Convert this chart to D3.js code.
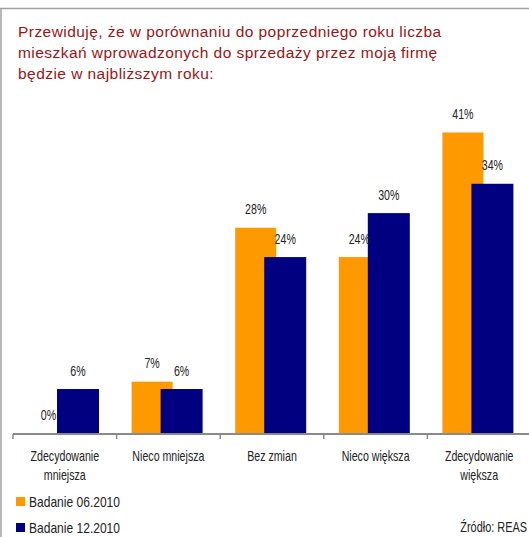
<!DOCTYPE html>
<html><head><meta charset="utf-8">
<script src="https://cdn.jsdelivr.net/npm/d3@7"></script>
<style>
html,body{margin:0;padding:0;background:#fff;}
svg{display:block;}
</style></head>
<body>
<script>
const categories = [["Zdecydowanie","mniejsza"],["Nieco mniejsza"],["Bez zmian"],["Nieco większa"],["Zdecydowanie","większa"]];
const seriesNames = ["Badanie 06.2010","Badanie 12.2010"];
const seriesColors = ["#FF9900","#000080"];
const june2010 = [0,7,28,24,41];
const dec2010 = [6,6,24,30,34];
const titleLines = ["Przewiduję, że w porównaniu do poprzedniego roku liczba","mieszkań wprowadzonych do sprzedaży przez moją firmę","będzie w najbliższym roku:"];
const sourceText = "Źródło: REAS";

const W=529,H=537;
const font = "'Liberation Sans',Arial,sans-serif";
const svg=d3.select("body").append("svg").attr("width",W).attr("height",H);

// narrow text: group translated to (x,y) and squeezed horizontally
function ntext(parent,data,fx,fy,f,anchor,txt){
  const g=parent.append("g").selectAll("g").data(data).join("g")
    .attr("transform",(d,i)=>`translate(${fx(d,i)},${fy(d,i)}) scale(${f},1)`);
  g.append("text").attr("text-anchor",anchor).attr("font-family",font).attr("font-size",14)
    .attr("fill","#222").text(txt);
  return g;
}

// frame
svg.append("line").attr("x1",0).attr("x2",W).attr("y1",8.5).attr("y2",8.5).attr("stroke","#a0a0a0").attr("stroke-width",1.5);
svg.append("line").attr("x1",1).attr("x2",1).attr("y1",8).attr("y2",H).attr("stroke","#a0a0a0").attr("stroke-width",1.5);

// title
svg.append("g").selectAll("text").data(titleLines).join("text")
  .attr("x",18).attr("y",(d,i)=>37+i*21)
  .attr("fill","#9A1515").attr("font-family",font).attr("font-size",15.5).attr("letter-spacing",0.45)
  .text(d=>d);

const idx=d3.range(categories.length);
const x=d3.scaleBand().domain(idx).range([13,531]).padding(0);
const y=d3.scaleLinear().domain([0,45]).range([433,433-45*7.33]);

const series=[{name:seriesNames[0],vals:june2010,off:15,w:41,c:seriesColors[0]},
              {name:seriesNames[1],vals:dec2010,off:44,w:42,c:seriesColors[1]}];

series.forEach(s=>{
  svg.append("g").selectAll("rect").data(s.vals).join("rect")
    .attr("x",(d,i)=>x(i)+s.off).attr("width",s.w)
    .attr("y",d=>y(d)).attr("height",d=>y(0)-y(d)).attr("fill",s.c);
});
series.forEach(s=>{
  ntext(svg,s.vals,(d,i)=>x(i)+s.off+s.w/2,d=>y(d)-13.5,0.76,"middle",d=>d+"%");
});

// axis
const ax=svg.append("g").attr("transform","translate(0,434)");
ax.append("line").attr("x1",13).attr("x2",W).attr("y1",0).attr("y2",0).attr("stroke","#8a8a8a").attr("stroke-width",2);
ax.selectAll("line.t").data(idx).join("line").attr("class","t")
  .attr("x1",i=>x(i)).attr("x2",i=>x(i)).attr("y1",0).attr("y2",5).attr("stroke","#8a8a8a").attr("stroke-width",1.5);

const catLines=[];
categories.forEach((c,i)=>c.forEach((t,j)=>catLines.push({i,j,t})));
ntext(svg,catLines,d=>x(d.i)+x.bandwidth()/2,d=>460.5+d.j*19.5,0.76,"middle",d=>d.t);

// legend
const lg=svg.append("g").selectAll("rect").data(series).join("rect")
  .attr("x",16).attr("y",(d,i)=>497+i*26).attr("width",9).attr("height",9).attr("fill",d=>d.c);
ntext(svg,series,()=>29,(d,i)=>506.5+i*26,0.86,"start",d=>d.name);

ntext(svg,[sourceText],()=>527,()=>532,0.78,"end",d=>d);
</script>
</body></html>
